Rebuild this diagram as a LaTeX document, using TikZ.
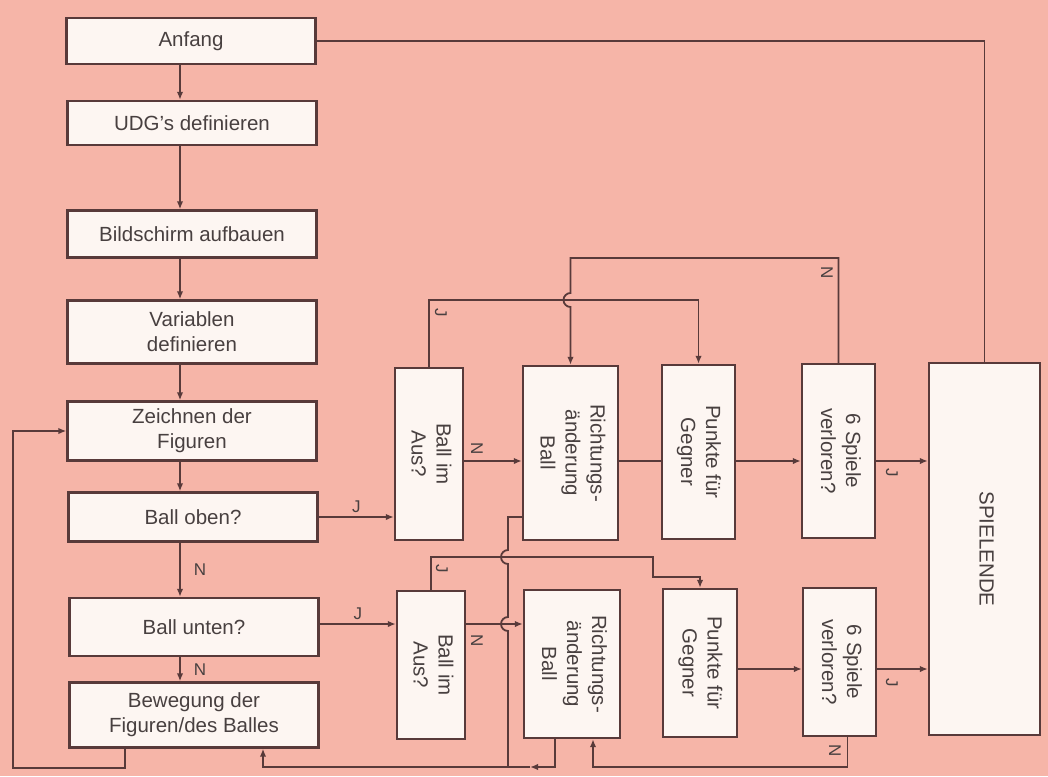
\documentclass[tikz,border=0pt]{standalone}
\usepackage{fontspec}
\setmainfont{Liberation Sans}
\usepackage{xcolor}
\usepackage{graphicx}
\usepackage{tikz}
\usetikzlibrary{positioning, arrows.meta}

\definecolor{pagepink}{RGB}{246,181,168}
\definecolor{boxwhite}{RGB}{253,246,242}
\definecolor{inkline}{RGB}{88,58,58}
\definecolor{inktext}{RGB}{72,64,64}

\newcommand{\vtext}[1]{\rotatebox{-90}{\begin{tabular}{@{}c@{}}#1\end{tabular}}}

\begin{document}
\begin{tikzpicture}[
  x=1pt, y=-1pt,
  stepbox/.style = {
    rectangle, draw=inkline, fill=boxwhite,
    line width=2.4pt, align=center, text=inktext,
    minimum width=249pt, inner sep=2pt,
    font=\fontsize{20.5}{25}\selectfont},
  vbox/.style = {
    rectangle, draw=inkline, fill=boxwhite,
    line width=2.4pt, text=inktext, inner sep=0pt,
    font=\fontsize{20.5}{25}\selectfont},
  wire/.style = {line width=1.8pt, draw=inkline},
  arr/.style  = {wire, -{Latex[length=8pt,width=6.5pt]}},
  lbl/.style  = {font=\fontsize{17}{20}\selectfont, text=inktext,
                 inner sep=1pt},
  rlbl/.style = {lbl, rotate=-90}
]

%── Page ─────────────────────────────────────────────────────────
\fill[pagepink] (0,0) rectangle (1048,776);

%── Main column ──────────────────────────────────────────────────
\node[stepbox, minimum height=46pt] (anf)   at (191,41)  {Anfang};
\node[stepbox, minimum height=44pt] (udg)   at (192,123) {UDG's definieren};
\node[stepbox, minimum height=47pt] (bild)  at (192,234) {Bildschirm aufbauen};
\node[stepbox, minimum height=63pt] (var)   at (192,332) {Variablen\\definieren};
\node[stepbox, minimum height=59pt] (zeich) at (192,431) {Zeichnen der\\Figuren};
\node[stepbox, minimum height=49pt] (oben)  at (193,517) {Ball oben?};
\node[stepbox, minimum height=58pt] (unten) at (194,627) {Ball unten?};
\node[stepbox, minimum height=65pt] (beweg) at (194,715)
  {Bewegung der\\Figuren/des Balles};

%── Upper row ────────────────────────────────────────────────────
\node[vbox, minimum width=68pt, minimum height=172pt] (ausA)
  at (429,454) {\vtext{Ball im\\Aus?}};
\node[vbox, minimum width=95pt, minimum height=174pt] (richA)
  at (570.5,453) {\vtext{Richtungs-\\änderung\\Ball}};
\node[vbox, minimum width=73pt, minimum height=174pt] (punA)
  at (698.5,452) {\vtext{Punkte für\\Gegner}};
\node[vbox, minimum width=73pt, minimum height=174pt] (sechsA)
  at (838.5,451) {\vtext{6 Spiele\\verloren?}};

%── Lower row ────────────────────────────────────────────────────
\node[vbox, minimum width=68pt, minimum height=148pt] (ausB)
  at (431,665) {\vtext{Ball im\\Aus?}};
\node[vbox, minimum width=96pt, minimum height=148pt] (richB)
  at (572,664) {\vtext{Richtungs-\\änderung\\Ball}};
\node[vbox, minimum width=74pt, minimum height=148pt] (punB)
  at (700,663) {\vtext{Punkte für\\Gegner}};
\node[vbox, minimum width=73pt, minimum height=148pt] (sechsB)
  at (839.5,662) {\vtext{6 Spiele\\verloren?}};

%── Game over ────────────────────────────────────────────────────
\node[vbox, minimum width=111pt, minimum height=372pt] (ende)
  at (984.5,549) {\vtext{SPIELENDE}};

%── Helper coordinates ───────────────────────────────────────────
\coordinate (spine)  at (180,0);
\coordinate (topN)   at (0,258);
\coordinate (topJ)   at (0,300);
\coordinate (rowA)   at (0,461);
\coordinate (midJ)   at (0,557);
\coordinate (jogB)   at (653,577);
\coordinate (rowN)   at (0,624);
\coordinate (rowB)   at (0,669);
\coordinate (busX)   at (508,0);
\coordinate (busY)   at (0,767);
\coordinate (busTip) at (530,767);
\coordinate (loopL)  at (13,768);
\coordinate (hopA)   at (richA.north |- topJ);
\coordinate (hopB1)  at (busX |- midJ);
\coordinate (hopB2)  at (busX |- rowN);
\coordinate (raW)    at ([yshift=-64pt]richA.west);
\coordinate (rbL)    at ([xshift=-17pt]richB.south);
\coordinate (rbR)    at ([xshift=21pt]richB.south);
\coordinate (sbN)    at ([xshift=8pt]sechsB.south);
\coordinate (bwL)    at ([xshift=-69pt]beweg.south);
\coordinate (bwR)    at ([xshift=69pt]beweg.south);

%── Main column arrows ───────────────────────────────────────────
\foreach \a/\b in {anf/udg, udg/bild, bild/var, var/zeich, zeich/oben}
  \draw[arr] (\a.south -| spine) -- (\b.north -| spine);
\draw[arr] (oben.south -| spine)
  -- node[lbl, right=12pt] (nO) {N} (unten.north -| spine);
\draw[arr] (unten.south -| spine)
  -- node[lbl, right=12pt] (nU) {N} (beweg.north -| spine);
\draw[arr] (bwL) |- (loopL) |- (zeich.west);
\draw[wire] (anf.east) -| (ende.north);

%── Upper row connectors ─────────────────────────────────────────
\draw[arr] (oben.east) -- node[lbl, above=2pt] (jO) {J} (oben.east -| ausA.west);
\draw[arr] (ausA.north) |- (punA.north |- topJ) -- (punA.north);
\draw[arr] (sechsA.north) |- (topN -| hopA) -- ([yshift=7pt]hopA)
  arc[start angle=90, end angle=270, radius=7pt] -- (richA.north);
\draw[arr] (rowA -| ausA.east) -- (rowA -| richA.west);
\draw[wire] (rowA -| richA.east) -- (rowA -| punA.west);
\draw[arr] (rowA -| punA.east) -- (rowA -| sechsA.west);
\draw[arr] (rowA -| sechsA.east) -- (rowA -| ende.west);

%── Lower row connectors ─────────────────────────────────────────
\draw[arr] (unten.east |- rowN) -- node[lbl, above=2pt] (jU) {J} (rowN -| ausB.west);
\draw[arr] (ausB.north) |- (jogB |- midJ) |- (punB.north |- jogB) -- (punB.north);
\draw[arr] (rowN -| ausB.east) -- (rowN -| richB.west);
\draw[arr] (rowB -| punB.east) -- (rowB -| sechsB.west);
\draw[arr] (rowB -| sechsB.east) -- (rowB -| ende.west);
\draw[arr] (sbN) |- (rbR |- busY) -- (rbR);

%── Return bus ───────────────────────────────────────────────────
\draw[wire] (raW) -| ([yshift=7pt]hopB1)
  arc[start angle=90, end angle=270, radius=7pt] -- ([yshift=7pt]hopB2)
  arc[start angle=90, end angle=270, radius=7pt] -- (busX |- busY);
\draw[arr] (rbL) |- (busTip);
\draw[arr] (busTip) -| (bwR);

%── Branch labels ────────────────────────────────────────────────
\node[rlbl] (jA) at (441,313) {J};
\node[rlbl] (nA) at (477,449) {N};
\node[rlbl] (nS) at (827,273) {N};
\node[rlbl] (jS) at (892,473) {J};
\node[rlbl] (jB) at (442,569) {J};
\node[rlbl] (nB) at (477,641) {N};
\node[rlbl] (jT) at (892,683) {J};
\node[rlbl] (nT) at (835,751) {N};

\end{tikzpicture}
\end{document}
